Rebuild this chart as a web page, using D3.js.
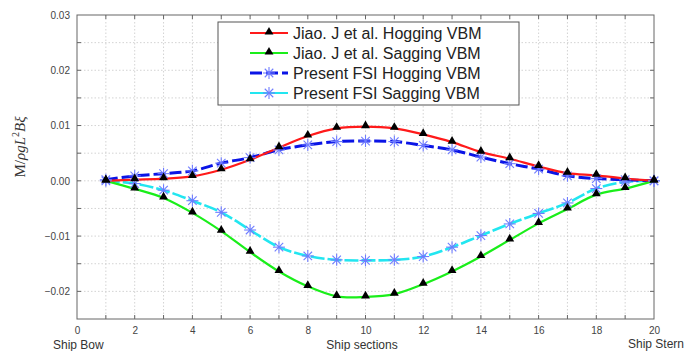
<!DOCTYPE html>
<html>
<head>
<meta charset="utf-8">
<script src="https://cdn.jsdelivr.net/npm/d3@7"></script>
<style>
  body { margin: 0; background: #fff; }
  svg { display: block; }
</style>
</head>
<body>
<svg id="chart" width="698" height="351"></svg>
<script>
'use strict'

// ship sections 1..20
const sections = d3.range(1, 21)

const jiaoHogging = [0, 0.0002, 0.0004, 0.0008, 0.002, 0.0038, 0.006, 0.0081, 0.0095, 0.0098, 0.0095, 0.0084, 0.0070, 0.0052, 0.0040, 0.0026, 0.0014, 0.0010, 0.0004, 0]
const jiaoSagging = [0, -0.00145, -0.0031, -0.0058, -0.0091, -0.0129, -0.0164, -0.0191, -0.0209, -0.0210, -0.0205, -0.0187, -0.0164, -0.0137, -0.0107, -0.0077, -0.0051, -0.0025, -0.0014, 0]
const fsiHogging = [0.0002, 0.0009, 0.0013, 0.0018, 0.0032, 0.0042, 0.0056, 0.0065, 0.0071, 0.0072, 0.0071, 0.0064, 0.0056, 0.0043, 0.0031, 0.0021, 0.0009, 0.0004, 0.0002, 0]
const fsiSagging = [0, -0.0005, -0.0017, -0.0036, -0.0057, -0.0089, -0.0120, -0.0136, -0.0143, -0.0144, -0.0143, -0.0137, -0.0120, -0.0099, -0.0078, -0.0059, -0.0040, -0.0014, -0.0002, 0]

const seriesNames = ['Jiao. J et al. Hogging VBM', 'Jiao. J et al. Sagging VBM', 'Present FSI Hogging VBM', 'Present FSI Sagging VBM']
const seriesColors = ['#ff1a1a', '#1aee1a', '#0a14e6', '#22e6f0']
const xTicks = [0, 2, 4, 6, 8, 10, 12, 14, 16, 18, 20]
const yTicks = [-0.02, -0.01, 0, 0.01, 0.02, 0.03]

let svg = d3.select('#chart')
let margin = { left: 77, right: 44, top: 15, bottom: 32 }
let W = 698, H = 351

let x = d3.scaleLinear().domain([0, 20]).range([margin.left, W - margin.right])
let y = d3.scaleLinear().domain([-0.025, 0.03]).range([H - margin.bottom, margin.top])

// grid
let grid = svg.append('g').attr('stroke', '#c8c8c8').attr('stroke-dasharray', '1.5,2').attr('stroke-width', 0.8)
grid.selectAll('line.v').data(d3.range(1, 20)).enter().append('line')
    .attr('x1', d => x(d)).attr('x2', d => x(d)).attr('y1', y(0.03)).attr('y2', y(-0.025))
grid.selectAll('line.h').data(d3.range(-0.02, 0.03, 0.005)).enter().append('line')
    .attr('y1', d => y(d)).attr('y2', d => y(d)).attr('x1', x(0)).attr('x2', x(20))

// axes
svg.append('g').attr('transform', `translate(0,${y(-0.025)})`)
    .call(d3.axisBottom(x).tickValues(xTicks).tickSize(0).tickPadding(8).tickFormat(d3.format('d')))
svg.append('g').attr('transform', `translate(${x(0)},0)`)
    .call(d3.axisLeft(y).tickValues(yTicks).tickSize(0).tickPadding(7).tickFormat(d3.format('.2f')))
svg.selectAll('.domain').remove()
svg.selectAll('.tick text').attr('font-family', 'Liberation Sans, Arial, sans-serif').attr('font-size', 10).attr('fill', '#444')

// frame and inner ticks
let frame = svg.append('g').attr('stroke', '#666').attr('stroke-width', 1)
frame.append('rect').attr('x', x(0)).attr('y', y(0.03)).attr('width', x(20) - x(0)).attr('height', y(-0.025) - y(0.03)).attr('fill', 'none')
d3.range(1, 20).forEach(d => {
    frame.append('line').attr('x1', x(d)).attr('x2', x(d)).attr('y1', y(-0.025)).attr('y2', y(-0.025) - 4)
    frame.append('line').attr('x1', x(d)).attr('x2', x(d)).attr('y1', y(0.03)).attr('y2', y(0.03) + 4)
})
d3.range(-0.02, 0.03, 0.005).forEach(d => {
    frame.append('line').attr('y1', y(d)).attr('y2', y(d)).attr('x1', x(0)).attr('x2', x(0) + 4)
    frame.append('line').attr('y1', y(d)).attr('y2', y(d)).attr('x1', x(20)).attr('x2', x(20) - 4)
})

// lines
let allSeries = [jiaoHogging, jiaoSagging, fsiHogging, fsiSagging]
let line = d3.line().x((d, i) => x(sections[i])).y(d => y(d)).curve(d3.curveCatmullRom)
let dashes = [null, null, '12,4', '14,3']
let widths = [2.2, 2.2, 3, 2.6]

// draw order: FSI first, Jiao on top where they overlap
;[3, 2, 1, 0].forEach(k => {
    svg.append('path').datum(allSeries[k]).attr('d', line)
        .attr('fill', 'none').attr('stroke', seriesColors[k]).attr('stroke-width', widths[k])
        .attr('stroke-dasharray', dashes[k])
})

function star(g, cx, cy, r) {
    let s = g.append('g').attr('stroke', '#6f7cff').attr('stroke-width', 1.1)
    for (let a = 0; a < 4; a++) {
        let t = a * Math.PI / 4
        s.append('line').attr('x1', cx - r * Math.cos(t)).attr('y1', cy - r * Math.sin(t))
            .attr('x2', cx + r * Math.cos(t)).attr('y2', cy + r * Math.sin(t))
    }
}
let tri = d3.symbol().type(d3.symbolTriangle).size(34)

let markers = svg.append('g')
;[fsiSagging, fsiHogging].forEach(s => s.forEach((d, i) => star(markers, x(sections[i]), y(d), 6)))
;[jiaoSagging, jiaoHogging].forEach(s => s.forEach((d, i) => {
    markers.append('path').attr('d', tri).attr('transform', `translate(${x(sections[i])},${y(d) - 1})`).attr('fill', '#000')
}))

// legend
let lg = svg.append('g')
lg.append('rect').attr('x', 218).attr('y', 22).attr('width', 301).attr('height', 83)
    .attr('fill', '#fff').attr('stroke', '#555').attr('stroke-width', 1)
seriesNames.forEach((name, k) => {
    let ry = 33 + k * 20
    lg.append('line').attr('x1', 250).attr('x2', 288).attr('y1', ry).attr('y2', ry)
        .attr('stroke', seriesColors[k]).attr('stroke-width', k === 2 ? 3 : 2.2)
        .attr('stroke-dasharray', k === 2 ? '12,4' : null)
    if (k < 2) lg.append('path').attr('d', tri).attr('transform', `translate(269,${ry - 1})`).attr('fill', '#000')
    else star(lg, 269, ry, 6)
    lg.append('text').attr('x', 293).attr('y', ry + 6).text(name)
        .attr('font-family', 'Liberation Sans, Arial, sans-serif').attr('font-size', 16).attr('fill', '#222')
})

// axis titles
let labelFont = 'Liberation Sans, Arial, sans-serif'
svg.append('text').attr('x', 53).attr('y', 349).text('Ship Bow').attr('font-family', labelFont).attr('font-size', 12).attr('fill', '#333')
svg.append('text').attr('x', 362).attr('y', 349).attr('text-anchor', 'middle').text('Ship sections').attr('font-family', labelFont).attr('font-size', 12).attr('fill', '#333')
svg.append('text').attr('x', 684).attr('y', 348).attr('text-anchor', 'end').text('Ship Stern').attr('font-family', labelFont).attr('font-size', 12).attr('fill', '#333')

let yl = svg.append('text').attr('transform', 'translate(25,147) rotate(-90)').attr('text-anchor', 'middle')
    .attr('font-family', 'Liberation Serif, DejaVu Serif, serif').attr('font-size', 15).attr('fill', '#333')
yl.append('tspan').text('M/')
yl.append('tspan').attr('font-style', 'italic').text('ρgL')
yl.append('tspan').attr('font-size', 10).attr('dy', -6).text('2')
yl.append('tspan').attr('font-style', 'italic').attr('dy', 6).text('Bξ')
</script>
</body>
</html>
